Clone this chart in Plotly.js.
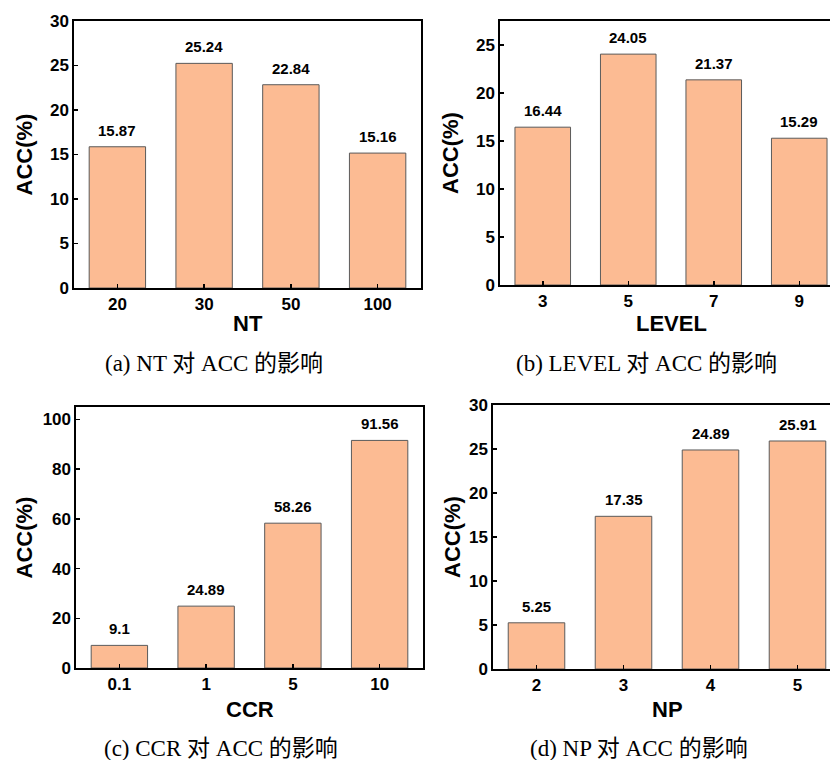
<!DOCTYPE html>
<html>
<head>
<meta charset="utf-8">
<script src="https://cdn.plot.ly/plotly-3.0.1.min.js"></script>
<style>
html, body { margin:0; padding:0; width:830px; height:760px; overflow:hidden; background:#fff; }
#chart { width:850px; height:760px; }
</style>
</head>
<body>
<div id="chart"></div>
<script>
// ---- data ----
const ntCats = ["20", "30", "50", "100"];
const ntAcc = [15.87, 25.24, 22.84, 15.16];
const levelCats = ["3", "5", "7", "9"];
const levelAcc = [16.44, 24.05, 21.37, 15.29];
const ccrCats = ["0.1", "1", "5", "10"];
const ccrAcc = [9.1, 24.89, 58.26, 91.56];
const npCats = ["2", "3", "4", "5"];
const npAcc = [5.25, 17.35, 24.89, 25.91];

const xTitles = ["NT", "LEVEL", "CCR", "NP"];
const yTitle = "ACC(%)";
const captions = ["(a) NT 对 ACC 的影响", "(b) LEVEL 对 ACC 的影响", "(c) CCR 对 ACC 的影响", "(d) NP 对 ACC 的影响"];

// ---- layout geometry (pixels) ----
const W = 850, H = 760;
const boxes = [
  {x0:74, x1:421, y0:21, y1:288, yr:[0,30], dt:5, xr:[-0.5,3.5]},
  {x0:500, x1:842, y0:21, y1:285, yr:[0,27.5], dt:5, xr:[-0.5,3.5]},
  {x0:76, x1:423, y0:407, y1:668, yr:[0,105], dt:20, xr:[-0.5,3.5]},
  {x0:493, x1:841, y0:405, y1:669, yr:[0,30], dt:5, xr:[-0.5,3.5]}
];
const capPos = [{x:214,y:363},{x:646,y:363},{x:221,y:748},{x:639,y:748}];
const yTitlePos = [24, 450, 24, 452];
const xTitleOff = [35, 38, 41, 40];

const cats = [ntCats, levelCats, ccrCats, npCats];
const vals = [ntAcc, levelAcc, ccrAcc, npAcc];

const sansB = {family:"Liberation Sans, Arial, sans-serif", color:"#000", weight:"bold"};
const traces = [];
const layout = {
  width:W, height:H, margin:{l:0,r:0,t:0,b:0},
  paper_bgcolor:"#fff", plot_bgcolor:"#fff",
  showlegend:false, annotations:[], bargap:0.35
};

boxes.forEach((b, i) => {
  const n = i === 0 ? "" : String(i+1);
  traces.push({
    type:"bar", x:cats[i], y:vals[i],
    xaxis:"x"+n, yaxis:"y"+n,
    marker:{color:"#FCBB93", line:{color:"#5a5a5a", width:1}},
    hoverinfo:"none"
  });
  const axCommon = {
    showline:true, mirror:true, linecolor:"#000", linewidth:1.6,
    ticks:"inside", ticklen:4, tickwidth:1.5, tickcolor:"#000",
    showgrid:false, zeroline:false,
    tickfont:Object.assign({size:17}, sansB)
  };
  layout["xaxis"+n] = Object.assign({}, axCommon, {
    domain:[b.x0/W, b.x1/W], anchor:"y"+n, type:"category",
    range:b.xr, fixedrange:true
  });
  layout["yaxis"+n] = Object.assign({}, axCommon, {
    domain:[1-b.y1/H, 1-b.y0/H], anchor:"x"+n,
    range:b.yr, dtick:b.dt, tick0:0, fixedrange:true
  });
  // value labels (x given as category index)
  cats[i].forEach((c, k) => {
    layout.annotations.push({
      xref:"x"+n, yref:"y"+n, x:k, y:vals[i][k], text:String(vals[i][k]),
      showarrow:false, yanchor:"bottom", yshift:6,
      font:Object.assign({size:15}, sansB)
    });
  });
  // x title
  layout.annotations.push({
    xref:"paper", yref:"paper", x:((b.x0+b.x1)/2)/W, y:1-(b.y1+xTitleOff[i])/H,
    text:xTitles[i], showarrow:false, xanchor:"center", yanchor:"middle",
    font:Object.assign({size:22}, sansB)
  });
  // y title
  layout.annotations.push({
    xref:"paper", yref:"paper", x:yTitlePos[i]/W, y:1-((b.y0+b.y1)/2)/H,
    text:yTitle, showarrow:false, textangle:-90, xanchor:"center", yanchor:"middle",
    font:Object.assign({size:22}, sansB)
  });
  // caption
  layout.annotations.push({
    xref:"paper", yref:"paper", x:capPos[i].x/W, y:1-capPos[i].y/H,
    text:captions[i], showarrow:false, xanchor:"center", yanchor:"middle",
    font:{family:"Liberation Serif, Times New Roman, Noto Sans CJK SC, serif", size:23, color:"#000"}
  });
});

Plotly.newPlot("chart", traces, layout, {staticPlot:true, displayModeBar:false});
</script>
</body>
</html>
